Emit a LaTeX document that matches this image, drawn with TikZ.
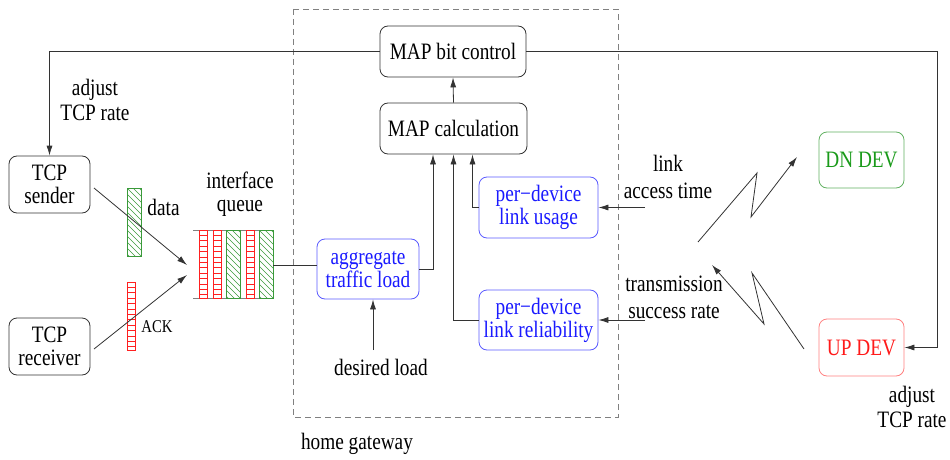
\documentclass[tikz,border=0pt]{standalone}
\usepackage{fontspec}
\setmainfont{Liberation Serif}[FakeStretch=0.82]
\usetikzlibrary{arrows.meta,calc}
\definecolor{lnc}{HTML}{333333}
\definecolor{pred}{HTML}{FF2020}
\definecolor{pgreen}{HTML}{3A9A3A}
\definecolor{bblue}{HTML}{1A1AFF}
\definecolor{bblueb}{HTML}{5A5AFF}
\definecolor{dngreen}{HTML}{1A9A1A}
\definecolor{dngreenb}{HTML}{60B060}
\definecolor{upred}{HTML}{FF1A1A}
\definecolor{upredb}{HTML}{FF8080}
\newcommand\hatchcol[4]{%
  \begin{scope}
    \clip (#1,#2) rectangle (#3,#4);
    \foreach \k in {-84,-78,...,84} {\draw[pgreen, line width=0.6pt] (#1+\k,#2) -- ++(90,90);}
  \end{scope}
  \draw[pgreen, line width=0.8pt] (#1,#2) rectangle (#3,#4);}
\newcommand\laddercol[4]{%
  \begin{scope}
    \clip (#1,#2) rectangle (#3,#4);
    \foreach \k in {5.4,10.8,...,80} {\draw[pred, line width=0.8pt] (#1,#2+\k) -- (#3,#2+\k);}
  \end{scope}
  \draw[pred, line width=0.9pt] (#1,#2) rectangle (#3,#4);}
\begin{document}
\begin{tikzpicture}[x=1pt,y=-1pt,
  every node/.style={font=\fontsize{23.5}{23}\selectfont, inner sep=0pt},
  box/.style={draw=lnc, line width=0.8pt, rounded corners=8pt, align=center},
  bbox/.style={box, draw=bblueb, text=bblue},
  conn/.style={draw=lnc, line width=0.8pt},
  arr/.style={conn, -{Latex[length=10pt,width=6pt]}},
  lbl/.style={align=center}]
\useasboundingbox (0,0) rectangle (950,460);

% home gateway
\draw[gray, dashed, line width=0.8pt, dash pattern=on 6pt off 4pt] (293,9) rectangle (618,417);
\node[lbl] (hg) at (357,444) {home gateway};

% boxes
\node[box, minimum width=146pt, minimum height=51pt] (bitctl) at (453,51.5) {MAP bit control};
\node[box, minimum width=147pt, minimum height=51pt] (calc) at (453.5,128.5) {MAP calculation};
\node[box, minimum width=81pt, minimum height=57pt] (sender) at (49.5,184.5) {TCP\\sender};
\node[box, minimum width=81pt, minimum height=57pt] (receiver) at (49.5,346.5) {TCP\\receiver};
\node[bbox, minimum width=102pt, minimum height=60pt] (agg) at (368,269) {aggregate\\traffic load};
\node[bbox, minimum width=119pt, minimum height=61pt] (usage) at (538.5,207.5) {per−device\\link usage};
\node[bbox, minimum width=119pt, minimum height=60pt] (reliab) at (538.5,320) {per−device\\link reliability};
\node[box, draw=dngreenb, text=dngreen, minimum width=85pt, minimum height=56pt] (dn) at (861.5,160) {DN DEV};
\node[box, draw=upredb, text=upred, minimum width=85pt, minimum height=57pt] (up) at (861.5,347.5) {UP DEV};

% labels
\node[lbl, font=\fontsize{23.5}{25}\selectfont] (adj1) at (95,100) {adjust\\TCP rate};
\node[lbl, font=\fontsize{23.5}{25}\selectfont] (adj2) at (912,407) {adjust\\TCP rate};
\node[lbl] (iq) at (240,194) {interface\\queue};
\node (data) at (163.5,207) {data};
\node[font=\fontsize{18}{20}\selectfont] (ack) at (157,327) {ACK};
\node (dl) at (381,367) {desired load};
\node[lbl, font=\fontsize{23.5}{27}\selectfont] (lat) at (668,177) {link\\access time};
\node[lbl, font=\fontsize{23.5}{27}\selectfont] (tsr) at (674,297) {transmission\\success rate};

% feedback lines
\coordinate (rc) at (937,51.5);
\draw[arr] (bitctl.west) -| (sender.north);
\draw[arr] (bitctl.east) -- (rc) |- (up.east);
\draw[arr] (calc.north) -- (bitctl.south);
\draw[arr] (agg.east) -| ($(calc.south)+(-20.5,0)$);
\draw[arr] (reliab.west) -| (calc.south);
\draw[arr] (usage.west) -| ($(calc.south)+(19,0)$);
\coordinate (dls) at (373,350);
\draw[arr] (dls) -- (dls |- agg.south);
\coordinate (la) at (645,207.5);
\coordinate (ts) at (645,320);
\draw[arr] (la) -- (usage.east);
\draw[arr] (ts) -- (reliab.east);

% queue
\draw[gray, line width=0.8pt] (193,230) -- (274,230) (193,298) -- (274,298);
\laddercol{199}{230}{207}{298}
\laddercol{213}{230}{221}{298}
\hatchcol{226}{230}{240}{298}
\laddercol{246}{230}{254}{298}
\hatchcol{259}{230}{273}{298}
\coordinate (qout) at (273,265);
\draw[conn] (qout) -- (agg.west |- qout);

% packets
\hatchcol{127}{188}{141}{256}
\laddercol{127}{282}{135}{350}

% TCP arrows
\coordinate (s1) at (94,188);
\coordinate (q1) at (187,265);
\coordinate (r1) at (94,349);
\coordinate (q2) at (187,275);
\draw[arr] (s1) -- (q1);
\draw[arr] (r1) -- (q2);

% wireless
\draw[arr] (698,242) -- (757,173) -- (751,217) -- (797,157);
\draw[arr] (804,349) -- (752,273) -- (764,324) -- (712,265);
\end{tikzpicture}
\end{document}
